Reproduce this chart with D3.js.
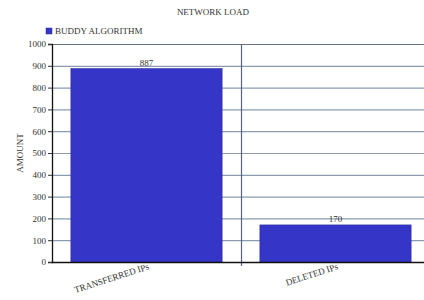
<!DOCTYPE html>
<html>
<head>
<meta charset="utf-8">
<script src="https://cdn.jsdelivr.net/npm/d3@7"></script>
<style>
  body { margin: 0; background: #fff; }
  text { font-family: "Liberation Serif", "DejaVu Serif", serif; fill: #333; }
</style>
</head>
<body>
<div id="chart"></div>
<script>
var categories = ["TRANSFERRED IPs", "DELETED IPs"];
var values = [887, 170];
var seriesName = "BUDDY ALGORITHM";
var yTicks = [0, 100, 200, 300, 400, 500, 600, 700, 800, 900, 1000];

var width = 424, height = 300;
var margin = { left: 52, top: 44, right: -6, bottom: 38 };
var innerW = width - margin.left - margin.right;
var innerH = height - margin.top - margin.bottom;

var svg = d3.select("#chart").append("svg")
  .attr("width", width)
  .attr("height", height);

var g = svg.append("g")
  .attr("transform", "translate(" + margin.left + "," + margin.top + ")");

var x = d3.scaleBand()
  .domain(categories)
  .range([0, innerW])
  .paddingInner(0.2)
  .paddingOuter(0.1);

var xOuter = d3.scaleBand().domain(categories).range([0, innerW]);

var y = d3.scaleLinear().domain([0, 1000]).range([innerH, 0]);

// horizontal grid
g.selectAll(".grid").data(yTicks)
  .enter().append("line")
  .attr("x1", 0).attr("x2", innerW)
  .attr("y1", function(d) { return y(d) + 0.5; })
  .attr("y2", function(d) { return y(d) + 0.5; })
  .attr("stroke", function(d) { return d === 1000 ? "#666e78" : "#8a9bb0"; })
  .attr("stroke-width", 1.2);

// category divider
g.selectAll(".div").data(categories.slice(1))
  .enter().append("line")
  .attr("x1", function(d) { return xOuter(d) + 0.5; })
  .attr("x2", function(d) { return xOuter(d) + 0.5; })
  .attr("y1", 0).attr("y2", innerH + 4)
  .attr("stroke", "#56657a").attr("stroke-width", 1.2);

// bars
g.selectAll(".bar").data(values)
  .enter().append("rect")
  .attr("x", function(d, i) { return x(categories[i]); })
  .attr("y", function(d) { return y(d); })
  .attr("width", x.bandwidth())
  .attr("height", function(d) { return innerH - y(d); })
  .attr("fill", "#3535c8")
  .attr("stroke", "#2a2a9a")
  .attr("stroke-width", 0.6);

// value labels
g.selectAll(".val").data(values)
  .enter().append("text")
  .attr("x", function(d, i) { return x(categories[i]) + x.bandwidth() / 2; })
  .attr("y", function(d) { return y(d) - 3; })
  .attr("text-anchor", "middle")
  .style("font-size", "9px")
  .text(function(d) { return d; });

// y axis
var yAxis = d3.axisLeft(y).tickValues(yTicks).tickFormat(d3.format("d")).tickSize(4).tickPadding(2);
var ya = g.append("g").call(yAxis);
ya.select(".domain").attr("stroke", "#111").attr("stroke-width", 1.3);
ya.selectAll(".tick line").attr("stroke", "#333");
ya.selectAll("text").style("font-size", "9px")
  .style("font-family", "'Liberation Serif', serif").attr("fill", "#333");

// x axis line
g.append("line")
  .attr("x1", 0).attr("x2", innerW)
  .attr("y1", innerH + 0.5).attr("y2", innerH + 0.5)
  .attr("stroke", "#111").attr("stroke-width", 1.3);

// x labels rotated, anchored at their end near the bar centre
g.selectAll(".xl").data(categories)
  .enter().append("text")
  .attr("transform", function(d) {
    var cx = x(d) + x.bandwidth() / 2 + 3;
    return "translate(" + cx + "," + (innerH + 7) + ") rotate(-18)";
  })
  .attr("text-anchor", "end")
  .style("font-size", "9px")
  .text(function(d) { return d; });

// y label
svg.append("text")
  .attr("transform", "translate(23," + (margin.top + innerH / 2) + ") rotate(-90)")
  .attr("text-anchor", "middle")
  .style("font-size", "9px")
  .text("AMOUNT");

// title
svg.append("text")
  .attr("x", 213).attr("y", 15)
  .attr("text-anchor", "middle")
  .style("font-size", "9px")
  .text("NETWORK LOAD");

// legend
svg.append("rect")
  .attr("x", 46).attr("y", 28).attr("width", 6).attr("height", 6)
  .attr("fill", "#3535c8").attr("stroke", "#2a2a9a").attr("stroke-width", 0.5);
svg.append("text")
  .attr("x", 55).attr("y", 34)
  .style("font-size", "9px")
  .text(seriesName);
</script>
</body>
</html>
